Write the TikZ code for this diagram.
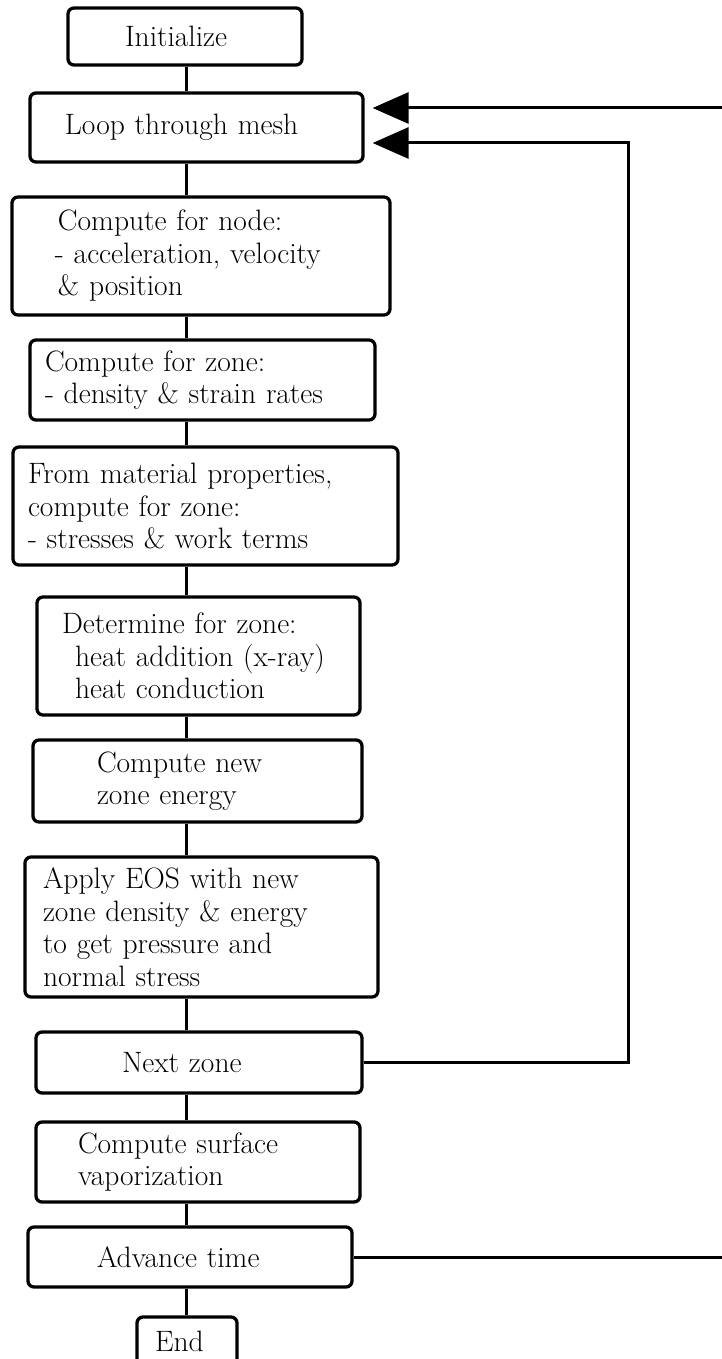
\documentclass[tikz,border=0pt]{standalone}
\usetikzlibrary{arrows.meta,calc}
\begin{document}
\begin{tikzpicture}[x=1pt,y=-1pt,
  box/.style={draw, line width=3.3pt, rounded corners=6pt, inner xsep=0pt, inner ysep=0pt,
    align=left, font=\fontsize{29.5}{32.5}\selectfont},
  conn/.style={line width=3pt},
  tip/.style={-{Triangle[length=36pt,width=31pt]}, shorten >=8pt}]
\useasboundingbox (0,0) rectangle (722,1359);
\clip (0,0) rectangle (722,1359);

\node[box, text width=234pt, minimum height=57pt] (init) at (185,36.5) {\hspace*{57pt}Initialize};
\node[box, text width=333pt, minimum height=69pt] (loop) at (196.5,127.5) {\hspace*{35pt}Loop through mesh};
\node[box, text width=378pt, minimum height=118pt] (cnode) at (201,256)
  {\hspace*{46pt}Compute for node:\\\hspace*{43pt}- acceleration, velocity\\\hspace*{46pt}\& position};
\node[box, text width=345pt, minimum height=80pt] (czone) at (202.5,380)
  {\hspace*{15pt}Compute for zone:\\\hspace*{15pt}- density \& strain rates};
\node[box, text width=385pt, minimum height=118pt] (mat) at (205.5,506)
  {\hspace*{15pt}From material properties,\\\hspace*{15pt}compute for zone:\\\hspace*{15pt}- stresses \& work terms};
\node[box, text width=323pt, minimum height=118pt] (det) at (198.5,656)
  {\hspace*{25pt}Determine for zone:\\\hspace*{38pt}heat addition (x-ray)\\\hspace*{38pt}heat conduction};
\node[box, text width=329pt, minimum height=82pt] (newe) at (197.5,781)
  {\hspace*{64pt}Compute new\\\hspace*{64pt}zone energy};
\node[box, text width=353pt, minimum height=140pt] (eos) at (201.5,927)
  {\hspace*{18pt}Apply EOS with new\\\hspace*{18pt}zone density \& energy\\\hspace*{18pt}to get pressure and\\\hspace*{18pt}normal stress};
\node[box, text width=326pt, minimum height=61pt] (next) at (199,1062.5) {\hspace*{86pt}Next zone};
\node[box, text width=324pt, minimum height=80pt] (surf) at (198,1162)
  {\hspace*{42pt}Compute surface\\\hspace*{42pt}vaporization};
\node[box, text width=324pt, minimum height=60pt] (adv) at (190,1257) {\hspace*{69pt}Advance time};
\node[box, text width=100pt, minimum height=48pt] (end) at (187,1341) {\hspace*{18pt}End};

\coordinate (spine) at (186,0);
\coordinate (r1) at (628,0);
\coordinate (r2) at (780,0);
\coordinate (inlow) at ($(loop.east)+(0,15.5)$);
\coordinate (inhigh) at ($(loop.east)+(0,-19.5)$);

\foreach \a/\b in {init/loop, loop/cnode, cnode/czone, czone/mat, mat/det, det/newe, newe/eos, eos/next, next/surf, surf/adv, adv/end}
  \draw[conn] (\a.south -| spine) -- (\b.north -| spine);

\draw[conn, tip] (next.east) -- (next.east -| r1) -- (inlow -| r1) -- (inlow);
\draw[conn, tip] (adv.east) -- (adv.east -| r2) -- (inhigh -| r2) -- (inhigh);
\end{tikzpicture}
\end{document}
